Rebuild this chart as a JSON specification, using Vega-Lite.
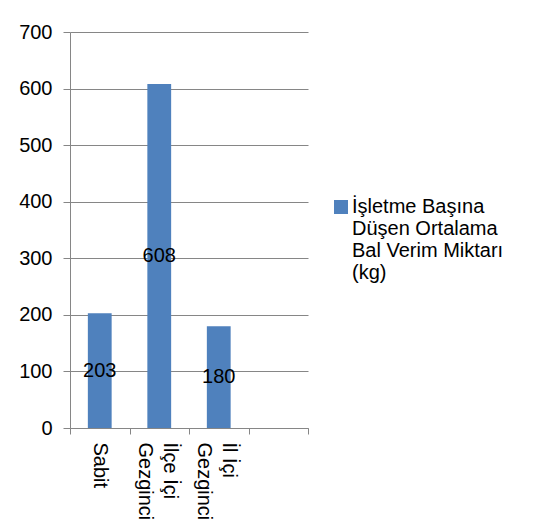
{
  "$schema": "https://vega.github.io/schema/vega-lite/v6.json",
  "autosize": "none",
  "width": 238,
  "height": 396,
  "padding": {"left": 70, "top": 32, "right": 227, "bottom": 103},
  "background": "white",
  "data": {
    "values": [
      {"kategori": "Sabit", "deger": 203, "seri": "İşletme Başına Düşen Ortalama Bal Verim Miktarı (kg)"},
      {"kategori": "İlçe İçi Gezginci", "deger": 608, "seri": "İşletme Başına Düşen Ortalama Bal Verim Miktarı (kg)"},
      {"kategori": "İl İçi Gezginci", "deger": 180, "seri": "İşletme Başına Düşen Ortalama Bal Verim Miktarı (kg)"}
    ]
  },
  "config": {
    "font": "Liberation Sans",
    "view": {"stroke": null},
    "axis": {
      "labelFont": "Liberation Sans",
      "labelFontSize": 20,
      "labelColor": "#000000",
      "domainColor": "#868686",
      "tickColor": "#868686",
      "gridColor": "#868686",
      "domainWidth": 1,
      "tickWidth": 1,
      "gridWidth": 1
    }
  },
  "layer": [
    {
      "mark": {"type": "bar", "color": "#4F81BD", "width": {"band": 0.4}},
      "encoding": {
        "x": {
          "field": "kategori",
          "type": "nominal",
          "sort": null,
          "scale": {"domain": ["Sabit", "İlçe İçi Gezginci", "İl İçi Gezginci", " "], "paddingInner": 0, "paddingOuter": 0},
          "axis": {
            "title": null,
            "labelAngle": 90,
            "labelExpr": "datum.label == 'İlçe İçi Gezginci' ? ['İlçe İçi', 'Gezginci'] : datum.label == 'İl İçi Gezginci' ? ['İl İçi', 'Gezginci'] : datum.label",
            "labelLineHeight": 25,
            "labelBaseline": {"condition": {"test": "datum.value == 'Sabit'", "value": "middle"}, "value": "bottom"},
            "tickBand": "extent",
            "tickSize": 6,
            "labelPadding": 8,
            "grid": false
          }
        },
        "y": {
          "field": "deger",
          "type": "quantitative",
          "scale": {"domain": [0, 700], "nice": false},
          "axis": {
            "title": null,
            "values": [0, 100, 200, 300, 400, 500, 600, 700],
            "tickSize": 7,
            "labelPadding": 11,
            "grid": true
          }
        },
        "color": {
          "field": "seri",
          "type": "nominal",
          "scale": {"range": ["#4F81BD"]},
          "legend": {
            "title": null,
            "orient": "none",
            "legendX": 261,
            "legendY": 165,
            "padding": 0,
            "symbolType": "square",
            "symbolSize": 196,
            "symbolStrokeWidth": 0,
            "labelFont": "Liberation Sans",
            "labelFontSize": 20,
            "labelColor": "#000000",
            "labelLimit": 300,
            "labelOffset": 1,
            "labelBaseline": "middle",
            "labelExpr": "['İşletme Başına', 'Düşen Ortalama', 'Bal Verim Miktarı', '(kg)']",
            "labelLineHeight": 26,
            "encoding": {"labels": {"update": {"dy": {"value": 3}}}}
          }
        }
      }
    },
    {
      "mark": {"type": "text", "font": "Liberation Sans", "fontSize": 20, "color": "#000000", "baseline": "middle", "align": "center"},
      "encoding": {
        "x": {"field": "kategori", "type": "nominal", "sort": null},
        "y": {"field": "deger", "type": "quantitative", "scale": {"domain": [0, 1400], "nice": false}, "axis": null},
        "text": {"field": "deger", "type": "quantitative"}
      }
    }
  ],
  "resolve": {"scale": {"y": "independent"}}
}
